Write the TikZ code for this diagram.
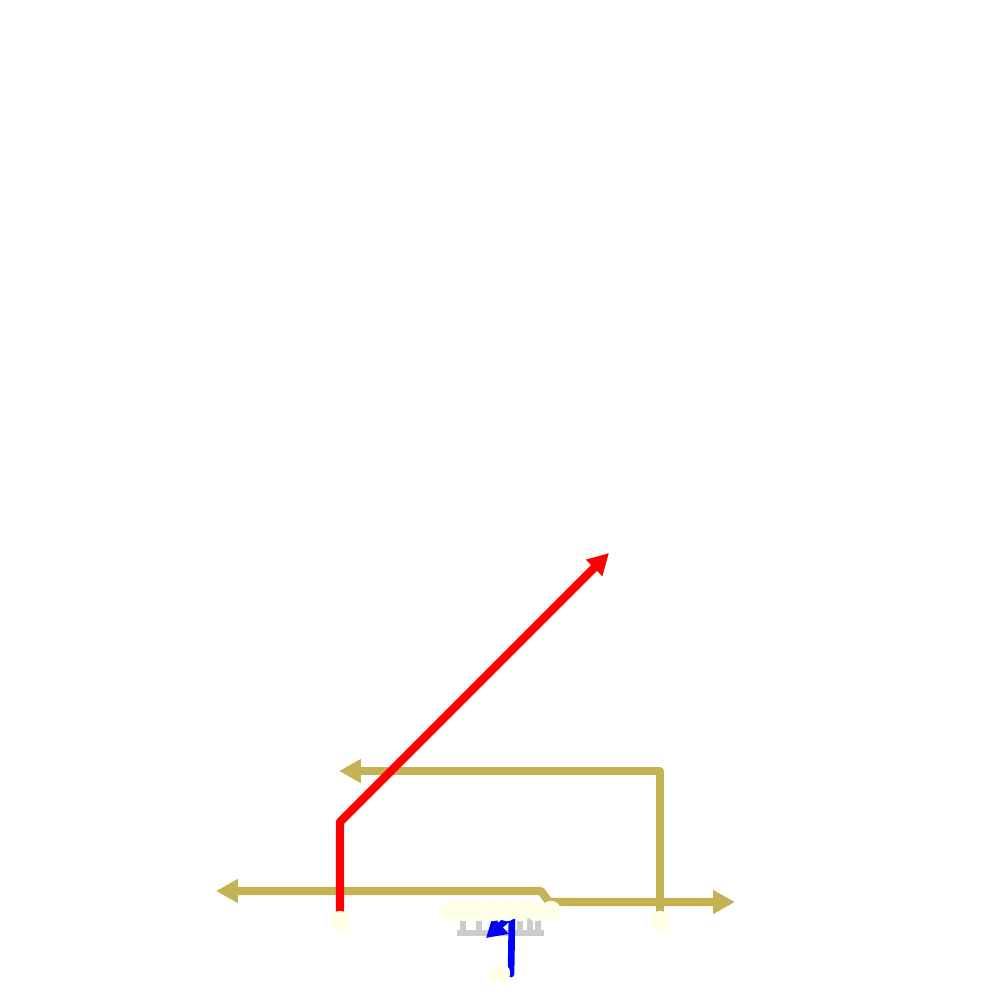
\documentclass[tikz,border=0pt]{standalone}
\usepackage{tikz}
\usetikzlibrary{arrows.meta}
\definecolor{frameGold}{HTML}{C5B253}
\definecolor{frameRed}{HTML}{FF0000}
\definecolor{frameBlue}{HTML}{0000FF}
\definecolor{frameGreen}{HTML}{22CC77}
\definecolor{jointGrey}{HTML}{CCCCCC}
\definecolor{jointIvory}{HTML}{FFFFE8}
\tikzset{
  goldax/.style={draw=frameGold, line width=2.3pt, line join=round,
              -{Triangle[length=6.2pt,width=6.4pt]}},
  goldboth/.style={goldax, {Triangle[length=6.2pt,width=6.4pt]}-{Triangle[length=6.2pt,width=6.4pt]}},
  redax/.style={draw=frameRed, line width=2.4pt, line join=round,
              -{Triangle[length=6pt,width=6.2pt]}},
  blueax/.style={draw=frameBlue, line width=1.9pt, line join=round, line cap=round},
  bluetip/.style={draw=frameBlue, line width=1.9pt, -{Triangle[length=5.6pt,width=6.4pt]}},
  greenax/.style={draw=frameGreen, line width=0.8pt},
  comb/.style={draw=jointGrey, line width=1.8pt},
  joint/.style={fill=jointIvory},
}
\begin{document}
\begin{tikzpicture}[x=0.01cm,y=-0.01cm]
  \useasboundingbox (0,0) rectangle (1000,1000);
  % axes
  \coordinate (baseL) at (216,891);
  \coordinate (baseK1) at (541,891);
  \coordinate (baseK2) at (549,902);
  \coordinate (baseR) at (735,902);
  \coordinate (hipR) at (660,921);
  \coordinate (hipTop) at (660,771);
  \coordinate (hipL) at (339,771);
  \coordinate (legL) at (340,921);
  \coordinate (legK) at (340,822);
  \coordinate (legTip) at (609,553);
  \coordinate (footB) at (511,974);
  \coordinate (footK) at (512,915);
  \coordinate (footTip) at (486,938);
  % grey comb under the joints
  \draw[comb] (457,933) -- (544,933);
  \foreach \x in {463,479,495,520,530,538}{
    \draw[comb] (\x,918) -- (\x,933);}
  \draw[goldboth] (baseL) -- (baseK1) -- (baseK2) -- (baseR);
  \draw[goldax] (hipR) -- (hipTop) -- (hipL);
  \draw[redax] (legL) -- (legK) -- (legTip);
  \draw[blueax] (footB) -- (footK);
  \draw[bluetip] (footK) -- (footTip);
  \draw[greenax] (509,919) -- (514,914);
  % joints
  \foreach \x in {450,464,478,493,507,521,536,551}{
    \fill[joint] (\x,911) circle[radius=2.9pt];}
  \fill[joint] (legL) circle[radius=2.9pt];
  \fill[joint] (hipR) circle[radius=2.9pt];
  \fill[joint] (500,973) circle[radius=2.9pt];
\end{tikzpicture}
\end{document}
